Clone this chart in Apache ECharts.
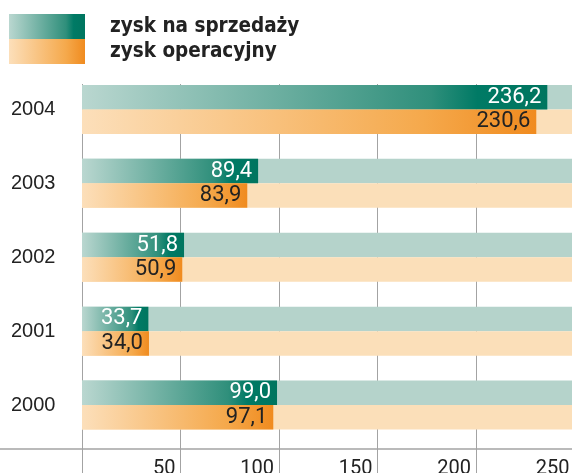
<!DOCTYPE html>
<html>
<head>
<meta charset="utf-8">
<script src="https://cdn.jsdelivr.net/npm/echarts@6/dist/echarts.min.js"></script>
<style>
  html, body { margin: 0; padding: 0; background: #fff; }
  #container { width: 572px; height: 473px; }
</style>
</head>
<body>
<div id="container"></div>
<script>
// dane (mln zł)
var years = ['2004', '2003', '2002', '2001', '2000'];
var zyskSprzedazy = [236.2, 89.4, 51.8, 33.7, 99.0];
var zyskOperacyjny = [230.6, 83.9, 50.9, 34.0, 97.1];
var seriesNames = ['zysk na sprzedaży', 'zysk operacyjny'];
var xMin = 0, xMax = 250, xStep = 50;

var numFont = "Roboto, 'DejaVu Sans Condensed', sans-serif";
var gridLine = '#a3a3a3';

function fmt(v) {
  return v.toFixed(1).replace('.', ',');
}

var greenGrad = new echarts.graphic.LinearGradient(0, 0, 1, 0, [
  { offset: 0, color: '#bad7d0' },
  { offset: 0.75, color: '#2f8f7b' },
  { offset: 0.85, color: '#007a65' },
  { offset: 1, color: '#00755f' }
]);
var orangeGrad = new echarts.graphic.LinearGradient(0, 0, 1, 0, [
  { offset: 0, color: '#fcdfba' },
  { offset: 0.75, color: '#f5a94c' },
  { offset: 1, color: '#f08b1f' }
]);

var plotTop = 72.5, plotH = 369.5;
var axisOffset = 449 - (plotTop + plotH);

var option = {
  animation: false,
  backgroundColor: '#fff',
  legend: {
    orient: 'vertical',
    left: 9,
    top: 14,
    padding: 0,
    itemWidth: 76,
    itemHeight: 25,
    itemGap: 0,
    selectedMode: false,
    icon: 'rect',
    data: [
      { name: seriesNames[0], textStyle: { padding: [9, 0, 0, 20] } },
      { name: seriesNames[1], textStyle: { padding: [0, 0, 1, 20] } }
    ],
    textStyle: {
      fontFamily: "'DejaVu Sans Condensed', 'DejaVu Sans', sans-serif",
      fontWeight: 'bold',
      fontSize: 20.5,
      lineHeight: 16,
      color: '#222'
    }
  },
  grid: [
    { left: 82, top: plotTop, width: 492.5, height: plotH, outerBoundsMode: 'none' },
    { left: 0, top: plotTop, width: 572, height: plotH, outerBoundsMode: 'none' }
  ],
  xAxis: [
    {
      type: 'value', gridIndex: 0, min: xMin, max: xMax, interval: xStep,
      position: 'bottom', offset: axisOffset,
      axisLine: { show: false },
      axisTick: { show: true, length: 30, lineStyle: { color: gridLine, width: 1 } },
      splitLine: { show: false },
      axisLabel: {
        align: 'right',
        margin: 10,
        padding: [0, 5, 0, 0],
        fontFamily: numFont,
        fontSize: 20,
        color: '#222',
        formatter: function (v) { return v === 0 ? '' : String(v); }
      }
    },
    {
      type: 'value', gridIndex: 0, min: xMin, max: xMax, interval: xStep,
      position: 'bottom', offset: axisOffset,
      axisLine: { show: false },
      axisTick: { show: true, inside: true, length: 365, lineStyle: { color: gridLine, width: 1 } },
      splitLine: { show: false },
      axisLabel: { show: false }
    },
    {
      type: 'value', gridIndex: 1, min: 0, max: 1,
      position: 'bottom', offset: axisOffset,
      axisLine: { show: true, lineStyle: { color: gridLine, width: 1.5 } },
      axisTick: { show: false },
      splitLine: { show: false },
      axisLabel: { show: false }
    }
  ],
  yAxis: [
    {
      type: 'category', gridIndex: 0, data: years, inverse: true,
      axisLine: { show: false },
      axisTick: { show: false },
      axisLabel: {
        align: 'left',
        margin: 71,
        fontFamily: "'Liberation Sans', Arial, sans-serif",
        fontSize: 20,
        color: '#222'
      }
    },
    {
      type: 'category', gridIndex: 1, data: years, show: false
    }
  ],
  series: [
    {
      name: seriesNames[0],
      type: 'bar',
      xAxisIndex: 0,
      yAxisIndex: 0,
      data: zyskSprzedazy,
      barWidth: 24.5,
      barGap: '0%',
      itemStyle: { color: greenGrad },
      showBackground: true,
      backgroundStyle: { color: '#b5d3cb' },
      label: {
        show: true,
        position: 'insideRight',
        distance: 6,
        fontFamily: numFont,
        fontSize: 22,
        color: '#fff',
        formatter: function (p) { return fmt(p.value); }
      }
    },
    {
      name: seriesNames[1],
      type: 'bar',
      xAxisIndex: 0,
      yAxisIndex: 0,
      data: zyskOperacyjny,
      barWidth: 24.5,
      barGap: '0%',
      itemStyle: { color: orangeGrad },
      showBackground: true,
      backgroundStyle: { color: '#fbdfb9' },
      label: {
        show: true,
        position: 'insideRight',
        distance: 6,
        fontFamily: numFont,
        fontSize: 22,
        color: '#222',
        formatter: function (p) { return fmt(p.value); }
      }
    }
  ]
};

var myChart = echarts.init(document.getElementById('container'), null, { renderer: 'canvas' });
myChart.setOption(option);
</script>
</body>
</html>
